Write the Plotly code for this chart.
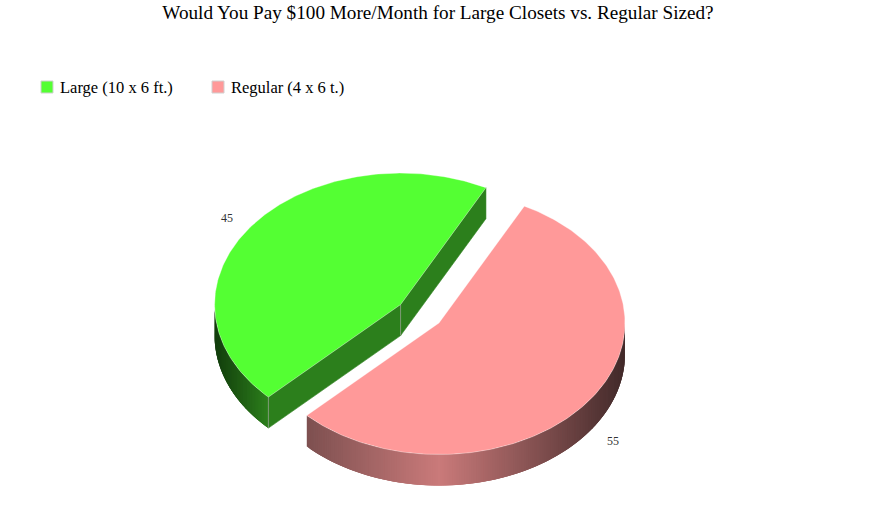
import numpy as np
import plotly.graph_objects as go

# Data
categories = ["Large (10 x 6 ft.)", "Regular (4 x 6 t.)"]
values = [45, 55]
title_text = "Would You Pay $100 More/Month for Large Closets vs. Regular Sized?"

# Style
top_colors = ["#54ff33", "#ff9999"]
FONT = "Liberation Serif"
W, H = 876, 510
CX, CY = 419.8, 313.8
RX, RY = 186.0, 131.5
DEPTH = 31.0
EXPLODE = (19.2, 9.2)
START = 62.7
LEGEND_MARK_X = [47, 218]
LEGEND_TEXT_X = [58, 229]
LEGEND_Y = 87


def lerp(a, b, t):
    return tuple(a[i] + (b[i] - a[i]) * t for i in range(3))


def rgb(c):
    return "rgb(%d,%d,%d)" % tuple(round(v) for v in c)


def polygon(xs, ys, color, line=None, width=0.6):
    return go.Scatter(x=xs, y=ys, mode="lines", fill="toself", fillcolor=color,
                      line=dict(color=line or color, width=width),
                      hoverinfo="skip", showlegend=False)


def edge(xs, ys, color, width=1):
    return go.Scatter(x=xs, y=ys, mode="lines", line=dict(color=color, width=width),
                      hoverinfo="skip", showlegend=False)


def ell(ax, ay, deg):
    r = np.radians(deg)
    return ax + RX * np.cos(r), ay - RY * np.sin(r)


total = sum(values)
sweeps = [v / total * 360 for v in values]
a0, a1, a2 = START, START + sweeps[0], START + sweeps[0] + sweeps[1]

gx, gy = CX - EXPLODE[0], CY - EXPLODE[1]
rx, ry = CX + EXPLODE[0], CY + EXPLODE[1]

traces = []


def wall(ax, ay, d_from, d_to, color_fn):
    # Slightly overlapping strips: each one is painted over the seam of the last.
    n = int(abs(d_to - d_from) / 0.75) + 1
    ds = np.linspace(d_from, d_to, n + 1)
    for i in range(n):
        arc = np.linspace(ds[i], ds[min(i + 3, n)], 5)
        x, y = ell(ax, ay, arc)
        c = color_fn(float(ell(ax, ay, (ds[i] + ds[i + 1]) / 2)[0]))
        traces.append(polygon([*x, *x[::-1], x[0]],
                              [*y, *(y[::-1] + DEPTH), y[0]], rgb(c), "rgba(0,0,0,0)", 0))


# Regular slice: outer wall
R_LEFT, R_MID, R_RIGHT = (125, 80, 80), (202, 122, 122), (66, 42, 42)
left_x = ell(rx, ry, a1)[0]


def red_color(x):
    if x < rx:
        return lerp(R_LEFT, R_MID, (x - left_x) / (rx - left_x))
    return lerp(R_MID, R_RIGHT, (x - rx) / RX)


wall(rx, ry, a1, 360, red_color)

# Regular slice: top
th = np.linspace(a1, a2, 240)
xt, yt = ell(rx, ry, th)
traces.append(polygon([rx, *xt, rx], [ry, *yt, ry], top_colors[1], "rgba(255,255,255,0.55)"))

# Large slice: walls
G_DARK, G_MID = (18, 60, 12), (44, 127, 28)
gl = gx - RX
cx2 = ell(gx, gy, a1)[0]
wall(gx, gy, 180, a1, lambda x: lerp(G_DARK, G_MID, (x - gl) / (cx2 - gl)))
ex0, ey0 = ell(gx, gy, a0)
ex1, ey1 = ell(gx, gy, a1)
g_wall = rgb(G_MID)
traces.append(polygon([gx, ex0, ex0, gx, gx], [gy, ey0, ey0 + DEPTH, gy + DEPTH, gy], g_wall))
traces.append(polygon([gx, ex1, ex1, gx, gx], [gy, ey1, ey1 + DEPTH, gy + DEPTH, gy], g_wall))
traces.append(edge([gx, gx], [gy, gy + DEPTH], "#7f9a78"))
traces.append(edge([ex1, ex1], [ey1, ey1 + DEPTH], "#7f9a78"))

# Large slice: top
th = np.linspace(a0, a1, 200)
xt, yt = ell(gx, gy, th)
traces.append(polygon([gx, *xt, gx], [gy, *yt, gy], top_colors[0], "rgba(255,255,255,0.55)"))

annotations = []

# Legend
for name, color, mx, tx in zip(categories, top_colors, LEGEND_MARK_X, LEGEND_TEXT_X):
    traces.append(go.Scatter(x=[mx], y=[LEGEND_Y], mode="markers", name=name,
                             hoverinfo="name", showlegend=False,
                             marker=dict(symbol="square", size=12, color=color,
                                         line=dict(color="#d0d0d0", width=1))))
    annotations.append(dict(x=tx, y=LEGEND_Y, text=name, showarrow=False, xref="x", yref="y",
                            xanchor="left", yanchor="middle",
                            font=dict(family=FONT, size=16.5, color="#000000")))

# Value labels
acc = START
for i, (v, s) in enumerate(zip(values, sweeps)):
    mid = acc + s / 2
    acc += s
    ax, ay = (gx, gy) if i == 0 else (rx, ry)
    lx = ax + 1.16 * RX * np.cos(np.radians(mid))
    ly = ay - 1.115 * RY * np.sin(np.radians(mid))
    if np.sin(np.radians(mid)) < 0:
        ly += DEPTH
    annotations.append(dict(x=lx, y=ly, text=str(v), showarrow=False, xref="x", yref="y",
                            font=dict(family=FONT, size=12, color="#333333")))

fig = go.Figure(traces)
fig.update_layout(
    width=W, height=H, autosize=False,
    margin=dict(l=0, r=0, t=0, b=0),
    paper_bgcolor="white", plot_bgcolor="white",
    xaxis=dict(range=[0, W], visible=False, fixedrange=True),
    yaxis=dict(range=[H, 0], visible=False, fixedrange=True),
    title=dict(text=title_text, x=0.5, xanchor="center", y=0.975, yanchor="middle",
               font=dict(family=FONT, size=19.2, color="#000000")),
    annotations=annotations,
    showlegend=False,
)
fig.write_html("out.html", config=dict(displayModeBar=False),
               post_script="document.body.style.margin='0';document.documentElement.style.overflow='hidden';")
